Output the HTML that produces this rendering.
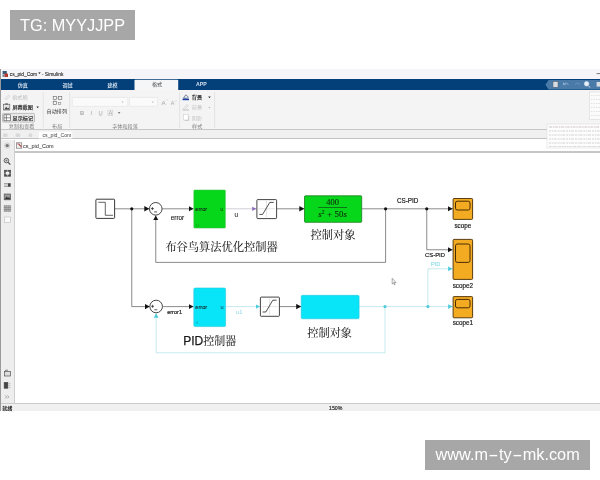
<!DOCTYPE html>
<html>
<head>
<meta charset="utf-8">
<title>cs_pid_Com - Simulink</title>
<style>
html,body{margin:0;padding:0;background:#fff;}
body{width:600px;height:480px;position:relative;overflow:hidden;font-family:"Liberation Sans","Noto Sans CJK SC",sans-serif;}
.abs{position:absolute;}
.wm{position:absolute;background:#a7a7a7;color:#fff;font-size:16.3px;line-height:29.3px;white-space:nowrap;height:29.5px;}
.wm span{position:absolute;left:10.1px;top:0.5px;filter:blur(0.2px);}
.dash{display:inline-block;width:11px;text-align:center;transform:scaleX(1.9);}
#win{position:absolute;left:0;top:0;width:600px;height:480px;}
#win div{position:absolute;left:1px;width:599px;}
#win #title{top:68.8px;height:10.1px;background:#f5f5f9;}
#win #tabs{top:78.9px;height:11.5px;background:#033f79;}
#win #ribbon{top:90.4px;height:38.4px;background:#f4f4f4;}
#win #l1{top:128.8px;height:1.2px;background:#c6c6c6;}
#win #doctabs{top:130px;height:8.1px;background:#f0f0f0;}
#win #l2{top:138.1px;height:1.4px;background:#c2c2c2;}
#win #crumb{top:139.5px;height:11.9px;background:#fff;}
#win #l3{top:151.4px;height:1.4px;background:#c6c6c6;}
#win #palette{top:139.5px;left:1px;width:13.4px;height:264px;background:#eeeeee;}
#win #pl{top:139.5px;left:14.2px;width:1px;height:264px;background:#cfcfcf;}
#win #edge{top:69px;left:0px;width:1px;height:342px;background:#9a9a9a;}
#win #l4{top:403px;height:1.1px;background:#cbcbcb;}
#win #status{top:404.1px;height:7px;background:#f0f0f0;}
svg text{font-family:"Liberation Sans","Noto Sans CJK SC",sans-serif;}
</style>

</head>
<body>
<div class="wm" style="left:10px;top:10px;width:125px;"><span>TG: MYYJJPP</span></div>
<div class="wm" style="left:425px;top:440px;width:165px;"><span style="left:10.6px;top:0.3px;">www.m<b class="dash" style="font-weight:normal">-</b>ty<b class="dash" style="font-weight:normal">-</b>mk.com</span></div>

<div id="win">
  <div id="title"></div>
  <div id="tabs"></div>
  <div id="ribbon"></div>
  <div id="l1"></div>
  <div id="doctabs"></div>
  <div id="l2"></div>
  <div id="crumb"></div>
  <div id="l3"></div>
  <div id="palette"></div>
  <div id="pl"></div>
  <div id="l4"></div>
  <div id="status"></div>
  <div id="edge"></div>
</div>

<svg class="abs" id="ui" style="left:0;top:0;filter:blur(0.3px);" width="600" height="480" viewBox="0 0 600 480">
<g id="chrome" style="font-family:'Liberation Sans','Noto Sans CJK SC',sans-serif;">
  <!-- title bar -->
  <g id="appicon">
    <rect x="2.6" y="71" width="4.2" height="3.2" fill="#3a5a78"/>
    <rect x="4.4" y="73.6" width="3.6" height="3.4" fill="#b5382a"/>
    <rect x="2.4" y="74.6" width="2" height="2.2" fill="#6b7f90"/>
  </g>
  <text x="9.8" y="76.1" font-size="5.3px" fill="#222" stroke="#222" stroke-width="0.1" textLength="53.6" lengthAdjust="spacingAndGlyphs">cs_pid_Com * - Simulink</text>
  <path d="M596.6,73.6 H600" stroke="#444" stroke-width="0.7"/>
  <!-- toolstrip tabs -->
  <g font-size="5px" fill="#d3e0ee" stroke="#d3e0ee" stroke-width="0.12" text-anchor="middle">
    <text x="22.7" y="86.5">仿真</text>
    <text x="67.6" y="86.5">调试</text>
    <text x="112.4" y="86.5">建模</text>
    <text x="201.4" y="86.4" font-size="5.2px" font-weight="bold" stroke="none">APP</text>
  </g>
  <path d="M134.5,90.6 V80.6 Q134.5,79.8 135.3,79.8 H177.4 Q178.2,79.8 178.2,80.6 V90.6 Z" fill="#f5f6f7"/>
  <text x="157" y="86.4" font-size="5.1px" fill="#444" text-anchor="middle">格式</text>
  <!-- quick access -->
  <path d="M545.4,84.8 L548.6,80 H600 V89.6 H548.6 Z" fill="#4a7aa8"/>
  <g>
    <rect x="553" y="81.6" width="5" height="5.6" fill="#d8dde2" stroke="#55606a" stroke-width="0.5"/>
    <path d="M563.5,84.5 q2.5,-3 5,0 M563.5,84.5 l0,-2 M563.5,84.5 l2,0.3" stroke="#9fc0e0" stroke-width="0.8" fill="none"/>
    <path d="M575,84.5 q2.500,-3 5,0" stroke="#6f97bd" stroke-width="0.8" fill="none"/>
    <circle cx="586.6" cy="83.8" r="2.3" fill="#e8f0f8" stroke="#cfe0f0" stroke-width="0.6"/>
    <path d="M588.2,85.6 L590,87.6" stroke="#d8e6f4" stroke-width="0.9"/>
    <rect x="596.6" y="82" width="3.4" height="4.6" fill="#d8dde2"/>
  </g>
  <!-- ribbon section 1 -->
  <g font-size="5.1px">
    <path d="M5,98.6 l3.6,-3.6 l1.2,1.2 l-3.6,3.6 z" fill="none" stroke="#c2c2c2" stroke-width="0.6"/>
    <text x="12.2" y="99" fill="#bdbdbd">格式刷</text>
    <rect x="3.4" y="104.2" width="6.4" height="5.8" fill="#e4e4e4" stroke="#555" stroke-width="0.6"/>
    <path d="M4.2,109.4 l2,-2.6 l1.4,1.6 l0.8,-0.8 l1,1.8 z" fill="#444"/>
    <rect x="5.2" y="103.4" width="2.6" height="1.2" fill="#555"/>
    <text x="12.4" y="109.4" fill="#1c1c1c" stroke="#1c1c1c" stroke-width="0.15">屏幕截图</text>
    <path d="M36.4,106.6 h2.6 l-1.300,1.600 z" fill="#333"/>
    <rect x="2.5" y="113.4" width="32" height="8.700" rx="1" fill="#e9e9e9" stroke="#9a9a9a" stroke-width="0.6"/>
    <rect x="4" y="114.800" width="6.4" height="6" fill="#fff" stroke="#444" stroke-width="0.6"/>
    <path d="M6.400,114.800 V120.800 M4,117.800 H10.400" stroke="#444" stroke-width="0.6"/>
    <text x="12.600" y="119.600" fill="#1c1c1c" stroke="#1c1c1c" stroke-width="0.15">显示标记</text>
    <text x="21.600" y="128.200" fill="#7d7d7d" text-anchor="middle">复制和查看</text>
    <path d="M43.300,92.500 V128" stroke="#dcdcdc" stroke-width="0.7"/>
    <!-- auto arrange -->
    <g fill="none" stroke="#666" stroke-width="0.6">
      <rect x="53.200" y="96.400" width="3.200" height="3.200"/>
      <rect x="58.600" y="96.400" width="3.200" height="3.200"/>
      <rect x="53.200" y="101.400" width="3.200" height="3.200"/>
      <rect x="58.600" y="102.400" width="2.200" height="2.200" stroke="#888"/>
      <path d="M56.400,98 H58.600 M54.800,99.600 V101.400" stroke="#999" stroke-width="0.5"/>
    </g>
    <text x="56.800" y="113.300" fill="#333" text-anchor="middle">自动排列</text>
    <text x="57.200" y="128.200" fill="#7d7d7d" text-anchor="middle">布局</text>
    <path d="M69.600,92.500 V128" stroke="#dcdcdc" stroke-width="0.7"/>
    <!-- font section -->
    <rect x="72.200" y="97.400" width="55.600" height="9" rx="1.200" fill="#fafafa" stroke="#e0e0e0" stroke-width="0.6"/>
    <path d="M121.400,101.600 h2.200 l-1.100,1.400 z" fill="#bbb"/>
    <rect x="129.600" y="97.400" width="28" height="9" rx="1.200" fill="#fafafa" stroke="#e0e0e0" stroke-width="0.6"/>
    <path d="M151.600,101.600 h2.200 l-1.100,1.400 z" fill="#bbb"/>
    <g fill="#a8a8a8" font-size="5.8px" text-anchor="middle">
      <text x="82" y="114.800" font-weight="bold">B</text>
      <text x="91.200" y="114.800" font-style="italic">I</text>
      <text x="100.500" y="114.800">U</text>
      <text x="110.400" y="114.800">A</text>
      <text x="163.600" y="105" font-size="6.2px">A</text>
      <text x="172.600" y="105" font-size="5.4px">A</text>
    </g>
    <path d="M98.800,115.600 h3.400" stroke="#c4c4c4" stroke-width="0.5"/>
    <rect x="108" y="110.200" width="4.800" height="5.400" fill="none" stroke="#c4c4c4" stroke-width="0.5"/>
    <path d="M117.800,112.200 h2.600 l-1.300,1.600 z" fill="#555"/>
    <path d="M166,100.400 l0.800,-1 l0.800,1 M175,100.400 l0.800,1 l0.800,-1" stroke="#c4c4c4" stroke-width="0.5" fill="none"/>
    <text x="125" y="128.200" fill="#7d7d7d" text-anchor="middle">字体和段落</text>
    <path d="M179.600,92.500 V128" stroke="#dcdcdc" stroke-width="0.7"/>
    <!-- style section -->
    <path d="M183.400,98.200 l2.400,-3.400 l2.600,2.400 l-1.200,1 z" fill="#e8eef6" stroke="#33415a" stroke-width="0.6"/>
    <rect x="182.600" y="98.600" width="6.400" height="1.600" fill="#1d3fa8"/>
    <text x="191.800" y="99" fill="#1c1c1c" stroke="#1c1c1c" stroke-width="0.15">背景</text>
    <path d="M208.200,96.600 h2.600 l-1.300,1.600 z" fill="#333"/>
    <path d="M183.400,108.600 l3.600,-4 l1.200,1.200 l-3.600,4 z" fill="none" stroke="#c2c2c2" stroke-width="0.6"/>
    <rect x="182.600" y="109.400" width="6.400" height="1.200" fill="#c8c8c8"/>
    <text x="191.800" y="109.400" fill="#c2c2c2">前景</text>
    <path d="M208.200,107 h2.600 l-1.300,1.600 z" fill="#c2c2c2"/>
    <rect x="183.400" y="114.600" width="4.800" height="5.400" fill="#fff" stroke="#d0d0d0" stroke-width="0.6"/>
    <path d="M188.700,116 V120.500 H184.600" stroke="#c4c4c4" stroke-width="0.8" fill="none"/>
    <text x="191.800" y="119.600" fill="#c2c2c2">阴影</text>
    <text x="197.200" y="128.200" fill="#7d7d7d" text-anchor="middle">样式</text>
    <path d="M214.600,92.500 V128" stroke="#dcdcdc" stroke-width="0.7"/>
  </g>
  <!-- popups on right -->
  <rect x="589.600" y="92" width="11" height="27.500" fill="#fbfbfb" stroke="#d9d9d9" stroke-width="0.6"/>
  <g stroke="#c9c9c9" stroke-width="0.5">
    <path d="M591,95.500 H600 M591,99.500 H600 M591,103.500 H600 M591,107.500 H600 M591,111.500 H600 M591,115.500 H600" stroke-dasharray="1.5 1"/>
  </g>
  <rect x="547" y="124" width="54" height="24" fill="#fdfdfd" stroke="#dcdcdc" stroke-width="0.6"/>
  <g stroke="#bdbdbd" stroke-width="0.7">
    <path d="M549,127 H600" stroke="#b9a9a9" stroke-dasharray="3 0.800 1.500 0.600"/>
    <path d="M549,131 H600 M549,135 H600 M549,139 H600 M549,143 H600" stroke-dasharray="2 0.800 1.200 0.600 3 1"/>
    <path d="M549,146.500 H600" stroke="#c9c9c9" stroke-dasharray="2.500 0.800 1 0.600"/>
  </g>
  <!-- document tab row -->
  <path d="M38.800,138.500 V132.600 Q38.800,131.800 39.600,131.800 H71.400 Q72.200,131.800 72.200,132.600 V138.500 Z" fill="#fff"/>
  <text x="42.500" y="137.400" font-size="5.200px" fill="#444">cs_pid_Com</text>
  <g fill="#d9d9d9">
    <rect x="3" y="133.400" width="4.600" height="3.600" rx="1"/>
    <rect x="15.600" y="133.400" width="4.600" height="3.600" rx="1"/>
    <rect x="28.600" y="133.400" width="3.600" height="3.600" rx="1"/>
  </g>
  <!-- breadcrumb -->
  <circle cx="7.200" cy="145.600" r="1.700" fill="#777"/>
  <circle cx="7.200" cy="145.600" r="2.600" fill="none" stroke="#aaa" stroke-width="0.500"/>
  <rect x="16.400" y="142.800" width="5.400" height="5.400" fill="#f4f0f0" stroke="#666" stroke-width="0.600"/>
  <path d="M17.400,144 h2 v1.600 h1.600 v1.800" stroke="#a02828" stroke-width="0.800" fill="none"/>
  <text x="23" y="147.600" font-size="5.500px" fill="#222">cs_pid_Com</text>
  <!-- palette icons -->
  <g fill="none" stroke="#555" stroke-width="0.700">
    <circle cx="6.400" cy="160.600" r="2.300" fill="#d8d8d8" stroke-width="0.9"/>
    <path d="M8.200,162.400 L10.300,164.600" stroke-width="1.2" stroke="#444"/>
    <path d="M5.400,160.600 h2 M6.400,159.600 v2" stroke-width="0.500"/>
    <rect x="4.300" y="170.200" width="6.400" height="6" fill="#555" stroke="#444" stroke-width="0.6"/>
    <rect x="5.900" y="171.800" width="3.200" height="2.800" fill="#f4f4f4" stroke="none"/>
    <path d="M4.300,173.200 h6.400 M7.500,170.200 v6" stroke="#e8e8e8" stroke-width="0.5"/>
    <path d="M4,183.800 H10.600 M4,186.200 H10.600" stroke="#777" stroke-width="0.9"/>
    <rect x="8" y="183.400" width="2.600" height="3.200" fill="#444" stroke="none"/>
    <rect x="4.200" y="194" width="6.400" height="5.800" fill="#999" stroke="#555"/>
    <path d="M4.600,199.200 l2,-2.600 l1.400,1.400 l1,-1 l1.400,2.200 z" fill="#333" stroke="none"/>
    <rect x="4.200" y="205.600" width="6.400" height="5.800" fill="#aaa" stroke="#666" stroke-dasharray="1.200 0.800"/>
    <path d="M4.600,207.600 h5.600 M4.600,209.600 h5.600" stroke="#666" stroke-width="0.6" stroke-dasharray="1 0.6"/>
    <rect x="4.400" y="217" width="6" height="5.600" fill="#fafafa" stroke="#c4c4c4"/>
    <rect x="4.400" y="371.400" width="6" height="4.600" fill="#ddd" stroke="#555"/>
    <path d="M5.600,371.400 v-1.200 h2.400" stroke="#555"/>
    <rect x="4.200" y="382.600" width="3.600" height="5.600" fill="#444" stroke="#444"/>
    <path d="M8.800,383.600 h1.600 M8.800,385.600 h1.600 M8.800,387.600 h1.600" stroke="#888" stroke-dasharray="0.800 0.500"/>
    <path d="M5.200,395.400 l1.400,1.500 l-1.400,1.500 M7.400,395.400 l1.400,1.500 l-1.400,1.500" stroke="#777" stroke-width="0.600"/>
  </g>
  <!-- status bar -->
  <text x="2.200" y="410.200" font-size="5px" fill="#222" font-weight="bold">就绪</text>
  <text x="335.700" y="410.300" font-size="5.200px" fill="#222" stroke="#222" stroke-width="0.15" text-anchor="middle">150%</text>
</g>

<defs>
  <marker id="ab" markerWidth="6" markerHeight="6" refX="5" refY="3" orient="auto" markerUnits="userSpaceOnUse"><path d="M0,0.3 L5,3 L0,5.7 Z" fill="#111"/></marker>
  <marker id="ac" markerWidth="6" markerHeight="6" refX="4.5" refY="3" orient="auto" markerUnits="userSpaceOnUse"><path d="M0,0.6 L4.5,3 L0,5.4 Z" fill="#4fcbda"/></marker>
  <marker id="ap" markerWidth="6" markerHeight="6" refX="4.2" refY="3" orient="auto" markerUnits="userSpaceOnUse"><path d="M0,0.9 L4.2,3 L0,5.1 Z" fill="#8f6cc0"/></marker>
</defs>
<g id="diagram" fill="none" stroke-linejoin="miter">
  <!-- black signal lines -->
  <g stroke="#3c3c3c" stroke-width="0.6">
    <path d="M114.8,208.8 H149.3" marker-end="url(#ab)"/>
    <path d="M162.2,208.8 H193.5" marker-end="url(#ab)"/>
    <path d="M277,208.8 H304.3" marker-end="url(#ab)"/>
    <path d="M361.8,208.8 H452.7" marker-end="url(#ab)"/>
    <path d="M385.6,208.8 V262.4 H155.75 V215.4" marker-end="url(#ab)"/>
    <path d="M426.75,208.8 V249.75 H452.6" marker-end="url(#ab)"/>
    <path d="M131.75,208.8 V306.6 H149.7" marker-end="url(#ab)"/>
    <path d="M162.6,306.6 H193.5" marker-end="url(#ab)"/>
    <path d="M279.6,306.6 H301.2" marker-end="url(#ab)"/>
  </g>
  <path d="M225.6,208.8 H256.4" stroke="#a9a9b2" stroke-width="0.55" marker-end="url(#ap)"/>
  <g fill="#111" stroke="none">
    <circle cx="131.75" cy="208.8" r="1.6"/>
    <circle cx="385.6" cy="208.8" r="1.6"/>
    <circle cx="426.75" cy="208.8" r="1.6"/>
  </g>
  <!-- cyan signal lines -->
  <g stroke="#93d9e2" stroke-width="0.55">
    <path d="M225.8,306.6 H260" marker-end="url(#ac)"/>
    <path d="M359,306.6 H452.6" marker-end="url(#ac)"/>
    <path d="M385,306.6 V352.8 H156.15 V313.2" marker-end="url(#ac)"/>
    <path d="M427.9,306.6 V268.8 H452.6" marker-end="url(#ac)"/>
  </g>
  <g fill="#4fcbda" stroke="none">
    <circle cx="385" cy="306.6" r="1.6"/>
    <circle cx="427.9" cy="306.6" r="1.6"/>
  </g>
  <!-- step block -->
  <rect x="95.9" y="199.2" width="18.7" height="19.2" rx="0.8" fill="#fff" stroke="#222" stroke-width="0.9"/>
  <path d="M98.3,202.3 H105.3 V215.3 H113" stroke="#222" stroke-width="0.7"/>
  <!-- sum 1 -->
  <circle cx="155.75" cy="208.8" r="6.3" fill="#fff" stroke="#262626" stroke-width="0.85"/>
  <path d="M150.9,208.6 H153.9 M152.4,207.1 V210.1 M154.1,211.9 H157.1" stroke="#1a1a1a" stroke-width="0.7"/>
  <!-- sum 2 -->
  <circle cx="156.15" cy="306.5" r="6.3" fill="#fff" stroke="#262626" stroke-width="0.85"/>
  <path d="M151.1,306.3 H154.1 M152.6,304.8 V307.8 M154.3,309.8 H157.3" stroke="#1a1a1a" stroke-width="0.7"/>
  <!-- green controller -->
  <rect x="193.8" y="190" width="31.6" height="38.1" rx="0.8" fill="#06d71a" stroke="#3dbb4a" stroke-width="0.5"/>
  <!-- cyan controller -->
  <rect x="193.8" y="288" width="31.8" height="38.6" rx="1.4" fill="#08e5f9" stroke="#27c6da" stroke-width="0.6"/>
  <!-- saturation blocks -->
  <rect x="256.9" y="199.6" width="19.7" height="19" rx="0.8" fill="#fff" stroke="#222" stroke-width="0.85"/>
  <path d="M266.5,200.8 V217.2 M258.4,208.8 H275" stroke="#bbb" stroke-width="0.4"/>
  <path d="M259.4,214.4 H262.6 L269.8,202.4 H273.7" stroke="#222" stroke-width="0.8"/>
  <rect x="260.4" y="297.1" width="19" height="19.2" rx="0.8" fill="#fff" stroke="#222" stroke-width="0.85"/>
  <path d="M269.6,298.4 V314.8 M261.9,306.6 H278" stroke="#bbb" stroke-width="0.4"/>
  <path d="M262.6,312 H265.8 L272.8,300.2 H276.6" stroke="#222" stroke-width="0.8"/>
  <!-- transfer fcn green -->
  <rect x="304.5" y="195.8" width="57.2" height="26.5" rx="0.8" fill="#06d71a" stroke="#1f7a22" stroke-width="0.8"/>
  <path d="M318.2,207.5 H347" stroke="#143214" stroke-width="0.6"/>
  <!-- transfer fcn cyan -->
  <rect x="301.2" y="295.3" width="57.9" height="23.5" rx="1.4" fill="#08e5f9" stroke="#27c6da" stroke-width="0.6"/>
  <!-- scopes -->
  <g fill="#f3ab22" stroke="#4a2c04" stroke-width="0.9">
    <rect x="453.1" y="198.5" width="19.5" height="20.9" rx="0.9"/>
    <rect x="455.5" y="201.2" width="14.5" height="8.8" rx="1.8" stroke-width="1"/>
    <rect x="453.1" y="239.4" width="19.5" height="40" rx="0.9"/>
    <rect x="455.5" y="244" width="14.5" height="18.4" rx="1.8" stroke-width="1"/>
    <rect x="453.1" y="296.6" width="19.5" height="21.2" rx="0.9"/>
    <rect x="455.5" y="299.4" width="14.5" height="8.4" rx="1.8" stroke-width="1"/>
  </g>
  <!-- cursor -->
  <path d="M392.2,278.3 V284 L393.5,282.8 L394.4,284.8 L395.1,284.5 L394.2,282.5 H396 Z" fill="#fff" stroke="#555" stroke-width="0.5"/>
</g>
<g id="labels" stroke="none">
  <g font-size="5.8px" fill="#1c1c1c" stroke="#1c1c1c" stroke-width="0.18">
    <text x="177.5" y="220.2" text-anchor="middle" font-size="6.4px" stroke-width="0.12">error</text>
    <text x="174.6" y="313.8" text-anchor="middle" font-size="5.6px">error1</text>
    <text x="236.3" y="216.5" text-anchor="middle" fill="#333" stroke="#333" font-size="6.4px" stroke-width="0.12">u</text>
    <text x="239.3" y="314.2" text-anchor="middle" fill="#86d9e3" stroke="none">u1</text>
    <text x="195.3" y="211" font-size="5.6px" stroke-width="0.1">error</text>
    <text x="220.3" y="211" font-size="5.6px" fill="#0a3a0a" stroke="none">u</text>
    <text x="196" y="226.6" font-size="5px" fill="#0c8f16" stroke="none" opacity="0.8">u</text>
    <text x="195.3" y="308.7" font-size="5.6px" stroke-width="0.1">error</text>
    <text x="220.6" y="308.7" font-size="5.6px" fill="#0a3a40" stroke="none">u</text>
    <text x="195.5" y="324.4" font-size="5px" fill="#0a9fb0" stroke="none" opacity="0.8">u</text>
  </g>
  <g font-size="6.3px" fill="#1c1c1c" stroke="#1c1c1c" stroke-width="0.2">
    <text x="407.6" y="202.9" text-anchor="middle" font-size="6.3px">CS-PID</text>
    <text x="435" y="256.9" text-anchor="middle" font-size="5.9px">CS-PID</text>
    <text x="435.6" y="265.7" text-anchor="middle" fill="#6fd5df" stroke="none" font-size="5.6px">PID</text>
    <text x="462.8" y="227.6" text-anchor="middle">scope</text>
    <text x="462.8" y="288.3" text-anchor="middle">scope2</text>
    <text x="462.8" y="325.3" text-anchor="middle">scope1</text>
  </g>
  <g fill="#111" stroke="#111" stroke-width="0.05" style="font-family:'Liberation Serif','Noto Serif CJK SC',serif;">
    <text x="165.4" y="251.3" font-size="11.3px" textLength="112.3" lengthAdjust="spacing" style="font-family:'Liberation Serif','Noto Serif CJK SC',serif;">布谷鸟算法优化控制器</text>
    <text x="310.6" y="239.3" font-size="11.25px" style="font-family:'Liberation Serif','Noto Serif CJK SC',serif;">控制对象</text>
    <text x="307.3" y="336.6" font-size="11.2px" style="font-family:'Liberation Serif','Noto Serif CJK SC',serif;">控制对象</text>
    <text x="332.6" y="205" font-size="8.4px" text-anchor="middle" stroke="#12260f" stroke-width="0.1" fill="#12260f" style="font-family:'Liberation Serif',serif;">400</text>
    <text x="332.6" y="217.2" font-size="8.8px" text-anchor="middle" stroke="#12260f" stroke-width="0.1" fill="#12260f" style="font-family:'Liberation Serif',serif;" textLength="28.6" lengthAdjust="spacing"><tspan font-style="italic">s</tspan><tspan font-size="5.4px" dy="-3.4">2</tspan><tspan dy="3.4"> + 50</tspan><tspan font-style="italic">s</tspan></text>
  </g>
  <text x="183.2" y="345.2" font-size="12px" fill="#1a1a1a"><tspan stroke="#1a1a1a" stroke-width="0.25">PID</tspan><tspan font-size="11px" style="font-family:'Liberation Serif','Noto Serif CJK SC',serif;" stroke="#1a1a1a" stroke-width="0.08">控制器</tspan></text>
</g>
</svg>
</body>
</html>
